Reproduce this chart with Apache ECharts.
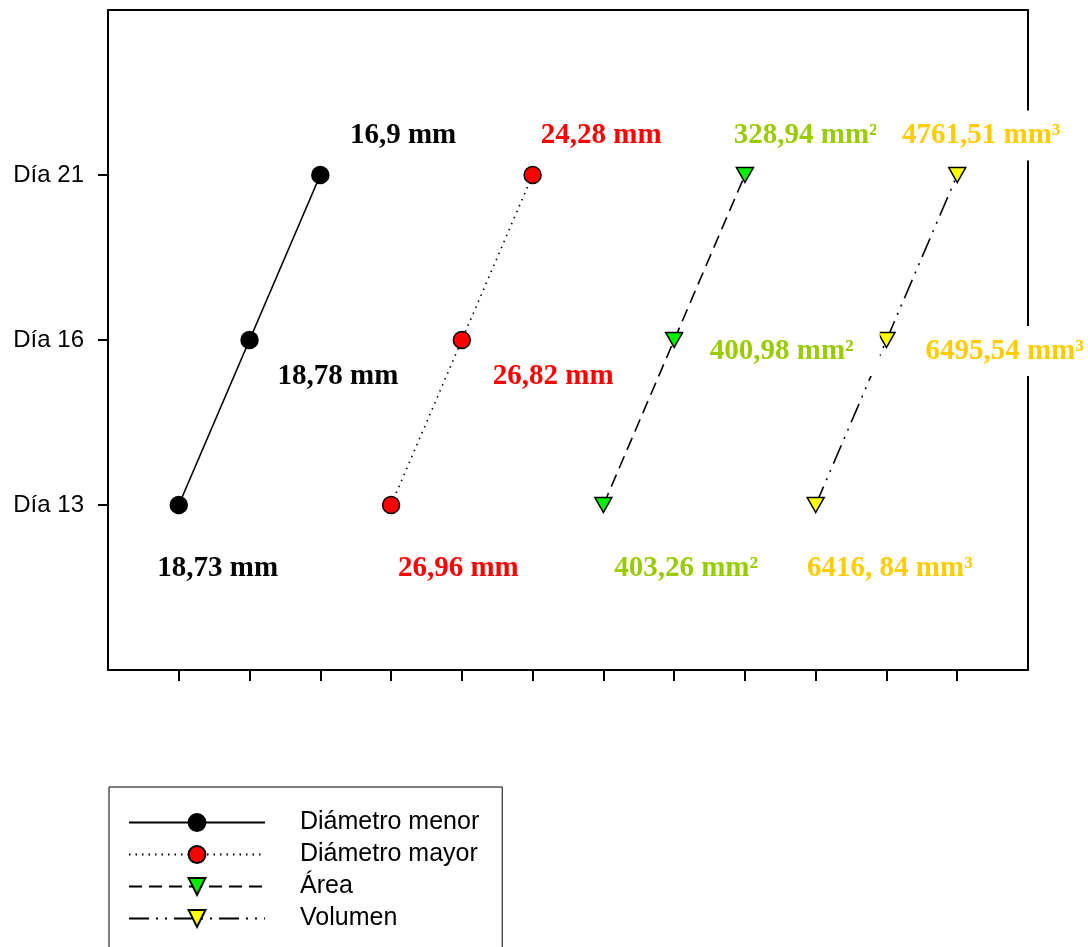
<!DOCTYPE html>
<html>
<head>
<meta charset="utf-8">
<script src="https://cdn.jsdelivr.net/npm/echarts@6/dist/echarts.min.js"></script>
<style>html,body{margin:0;padding:0;background:#fff}#c{width:1088px;height:947px}</style>
</head>
<body>
<div id="c"></div>
<script>
// Y categories (value 1,2,3 on the y axis)
var days = ['Día 13', 'Día 16', 'Día 21'];
var dayIndex = [1, 2, 3];
// X slots for each series
var menorX = [1, 2, 3];
var mayorX = [4, 5, 6];
var areaX = [7, 8, 9];
var volX = [10, 11, 12];
// Series names
var names = ['Diámetro menor', 'Diámetro mayor', 'Área', 'Volumen'];
// Annotated values (Día 13, Día 16, Día 21)
var menorText = ['18,73 mm', '18,78 mm', '16,9 mm'];
var mayorText = ['26,96 mm', '26,82 mm', '24,28 mm'];
var areaText = ['403,26 mm²', '400,98 mm²', '328,94 mm²'];
var volText = ['6416, 84 mm³', '6495,54 mm³', '4761,51 mm³'];
// Annotation anchors in data coordinates
var menorLblX = [1.55, 3.25, 4.17];
var mayorLblX = [4.95, 6.29, 6.97];
var areaLblX = [8.17, 9.52, 9.86];
var volLblX = [11.05, 12.67, 12.34];
var menorLblY = [0.618, 1.776, 3.24];
var mayorLblY = [0.618, 1.776, 3.24];
var areaLblY = [0.618, 1.933, 3.24];
var volLblY = [0.618, 1.933, 3.24];

function pts(xs) { return xs.map(function (x, i) { return [x, dayIndex[i]]; }); }
function lbls(xs, ys, texts) { return xs.map(function (x, i) { return { value: [x, ys[i]], name: texts[i] }; }); }

var lineDefs = [
  { name: names[0], x: menorX, symbol: 'circle', size: 17, rot: 0, fill: '#000000', type: 'solid' },
  { name: names[1], x: mayorX, symbol: 'circle', size: 17, rot: 0, fill: '#ff0000', type: [1.5, 5] },
  { name: names[2], x: areaX, symbol: 'triangle', size: [17, 15], rot: 180, fill: '#00ee00', type: [13, 7] },
  { name: names[3], x: volX, symbol: 'triangle', size: [17, 15], rot: 180, fill: '#ffff00', type: [20, 7, 2, 7, 2, 7] }
];
var lblDefs = [
  { x: menorLblX, y: menorLblY, t: menorText, color: '#000000' },
  { x: mayorLblX, y: mayorLblY, t: mayorText, color: '#ff0000' },
  { x: areaLblX, y: areaLblY, t: areaText, color: '#99cc00' },
  { x: volLblX, y: volLblY, t: volText, color: '#ffcc00' }
];

var series = [];
lineDefs.forEach(function (d) {
  series.push({
    type: 'line', name: d.name, data: pts(d.x),
    symbol: d.symbol, symbolSize: d.size, symbolRotate: d.rot, showAllSymbol: true,
    lineStyle: { color: '#000', width: 1.6, type: d.type },
    itemStyle: { color: d.fill, borderColor: '#000', borderWidth: 1.5 },
    emphasis: { disabled: true }, animation: false, z: 3
  });
});
lblDefs.forEach(function (d, i) {
  series.push({
    type: 'scatter', name: 'lbl' + i, data: lbls(d.x, d.y, d.t),
    symbolSize: 0, silent: true, z: 5, animation: false,
    itemStyle: { opacity: 1 },
    label: {
      show: true, position: 'inside', formatter: '{b}',
      fontFamily: 'Liberation Serif', fontWeight: 'bold', fontSize: 29, lineHeight: 30,
      color: d.color, backgroundColor: '#ffffff', padding: [10, 26]
    }
  });
});

var chart = echarts.init(document.getElementById('c'), null, { renderer: 'canvas' });
chart.setOption({
  backgroundColor: '#ffffff',
  animation: false,
  grid: { left: 108, top: 10, right: 60, bottom: 277, show: true, borderColor: '#000', borderWidth: 2, backgroundColor: 'transparent' },
  xAxis: {
    type: 'value', min: 0, max: 13,
    splitLine: { show: false }, axisLine: { show: false },
    axisTick: { show: true, inside: false, length: 11, lineStyle: { color: '#000', width: 2 }, customValues: [1,2,3,4,5,6,7,8,9,10,11,12] },
    axisLabel: { show: false }
  },
  yAxis: {
    type: 'value', min: 0, max: 4,
    splitLine: { show: false }, axisLine: { show: false },
    axisTick: { show: true, inside: false, length: 10, lineStyle: { color: '#000', width: 2 }, customValues: dayIndex },
    axisLabel: { show: true, customValues: dayIndex, margin: 24, color: '#000', fontFamily: 'Liberation Sans', fontSize: 24,
      formatter: function (v) { var k = dayIndex.indexOf(Math.round(v)); return k >= 0 ? days[k] : ''; } }
  },
  legend: {
    data: names, orient: 'vertical', left: 109, top: 787, height: 200,
    itemWidth: 136, itemHeight: 21, itemGap: 7,
    padding: [23, 23, 40, 19],
    backgroundColor: '#fff', borderColor: '#000', borderWidth: 1,
    textStyle: { color: '#000', fontFamily: 'Liberation Sans', fontSize: 25, lineHeight: 24, padding: [0, 0, 0, 30] },
    selectedMode: false
  },
  series: series
});
</script>
</body>
</html>
